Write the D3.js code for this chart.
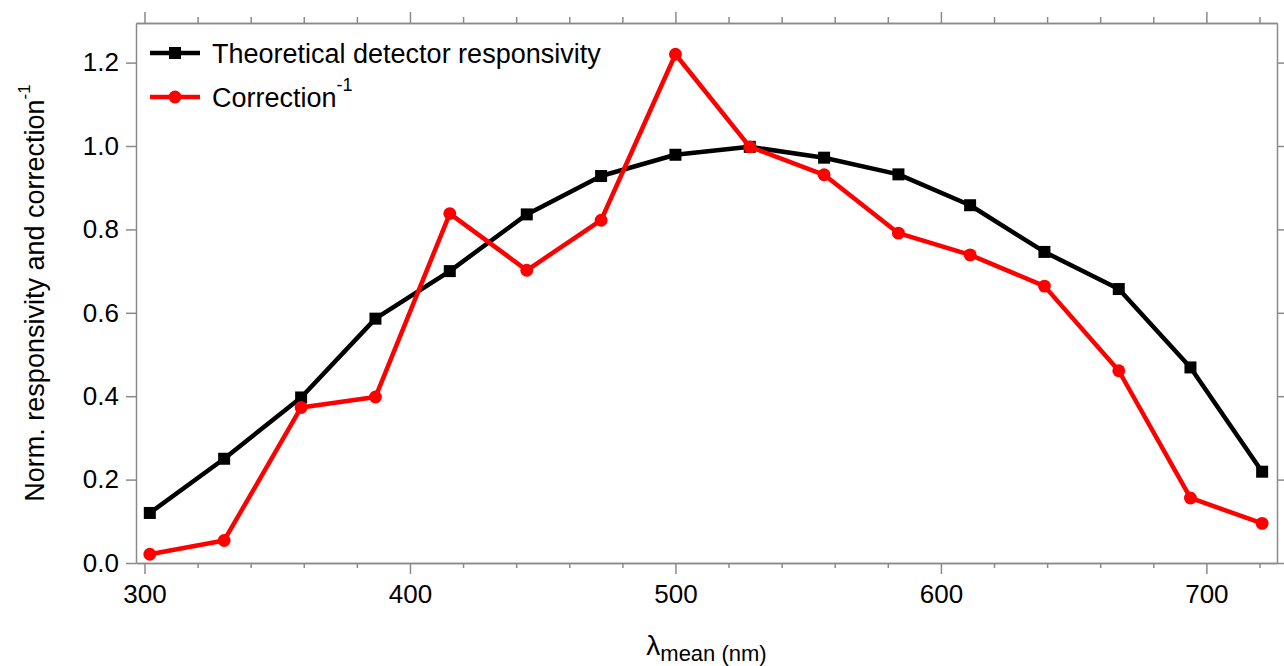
<!DOCTYPE html>
<html lang="en">
<head>
    <meta charset="UTF-8">
    <title>Responsivity vs correction</title>
    <script src="https://cdn.jsdelivr.net/npm/d3@7"></script>
    <style>
        body { margin: 0; background: #fff; }
        svg text { font-family: "Liberation Sans", Arial, sans-serif; fill: #000; }
        .axis path, .axis line { stroke: #8a8a8a; stroke-width: 1.5; }
        .axis text { font-size: 26px; }
    </style>
</head>
<body>
<svg id="chart" width="1284" height="666"></svg>
<script>
    // data
    let wavelengths = [302, 330, 359, 387, 415, 444, 472, 500, 528, 556, 584, 611, 639, 667, 694, 721];
    let responsivity = [0.120, 0.250, 0.397, 0.586, 0.700, 0.836, 0.928, 0.979, 0.998, 0.972, 0.932, 0.858, 0.746, 0.657, 0.469, 0.219];
    let correction = [0.021, 0.054, 0.373, 0.398, 0.838, 0.702, 0.822, 1.220, 0.998, 0.931, 0.791, 0.739, 0.664, 0.461, 0.156, 0.095];
    let xMajor = [300, 400, 500, 600, 700];
    let xMinor = d3.range(320, 721, 20).filter(function(d){ return d % 100 !== 0; });
    let yMajor = [0.0, 0.2, 0.4, 0.6, 0.8, 1.0, 1.2];

    let svg = d3.select('svg#chart');
    let margins = {left: 136, right: 7, top: 23, bottom: 103};
    let width = 1284, height = 666;

    let xScale = d3.scaleLinear().domain([296.8, 726.6]).range([margins.left, width - margins.right]);
    let yScale = d3.scaleLinear().domain([0, 1.295]).range([height - margins.bottom, margins.top]);

    // axes: bottom / left with labels, top / right ticks only
    svg.append('g').attr('class', 'axis')
        .attr('transform', 'translate(0,' + yScale.range()[0] + ')')
        .call(d3.axisBottom(xScale).tickValues(xMinor).tickSize(5).tickFormat('').tickSizeOuter(0));
    svg.append('g').attr('class', 'axis')
        .attr('transform', 'translate(0,' + yScale.range()[0] + ')')
        .call(d3.axisBottom(xScale).tickValues(xMajor).tickSize(11).tickPadding(11).tickSizeOuter(0));

    svg.append('g').attr('class', 'axis')
        .attr('transform', 'translate(0,' + yScale.range()[1] + ')')
        .call(d3.axisTop(xScale).tickValues(xMinor).tickSize(6).tickFormat('').tickSizeOuter(0));
    svg.append('g').attr('class', 'axis')
        .attr('transform', 'translate(0,' + yScale.range()[1] + ')')
        .call(d3.axisTop(xScale).tickValues(xMajor).tickSize(11).tickFormat('').tickSizeOuter(0));

    svg.append('g').attr('class', 'axis')
        .attr('transform', 'translate(' + xScale.range()[0] + ',0)')
        .call(d3.axisLeft(yScale).tickValues(yMajor).tickFormat(d3.format('.1f'))
            .tickSize(10).tickPadding(7).tickSizeOuter(0));
    svg.append('g').attr('class', 'axis')
        .attr('transform', 'translate(' + xScale.range()[1] + ',0)')
        .call(d3.axisRight(yScale).tickValues(yMajor).tickSize(8).tickFormat('').tickSizeOuter(0));

    // lines
    let series = [
        {name: 'Theoretical detector responsivity', values: responsivity, colour: '#000000', marker: 'square'},
        {name: 'Correction', sup: '-1', values: correction, colour: '#ff0000', marker: 'circle'}
    ];
    let line = d3.line()
        .x(function(d){ return xScale(d[0]); })
        .y(function(d){ return yScale(d[1]); });

    function markerPath(s) {
        return d3.symbol().type(s.marker === 'square' ? d3.symbolSquare : d3.symbolCircle)
            .size(s.marker === 'square' ? 144 : 130)();
    }

    series.forEach(function(s){
        let pts = d3.zip(wavelengths, s.values);
        svg.append('path')
            .attr('d', line(pts))
            .attr('fill', 'none')
            .attr('stroke', s.colour)
            .attr('stroke-width', 4.5)
            .attr('stroke-linejoin', 'round');
        svg.append('g').selectAll('path')
            .data(pts)
            .enter()
            .append('path')
            .attr('d', markerPath(s))
            .attr('transform', function(d){ return 'translate(' + xScale(d[0]) + ',' + yScale(d[1]) + ')'; })
            .attr('fill', s.colour);
    });

    // legend
    let legend = svg.append('g');
    series.forEach(function(s, i){
        let y = 53 + i * 44;
        legend.append('line')
            .attr('x1', 150).attr('x2', 200).attr('y1', y).attr('y2', y)
            .attr('stroke', s.colour).attr('stroke-width', 4.5);
        legend.append('path')
            .attr('d', markerPath(s))
            .attr('transform', 'translate(175,' + y + ')')
            .attr('fill', s.colour);
        let t = legend.append('text')
            .attr('x', 212).attr('y', y + 10)
            .style('font-size', '27px')
            .text(s.name);
        if (s.sup) {
            t.append('tspan').attr('dy', -16).style('font-size', '18px').text(s.sup);
        }
    });

    // axis titles
    let yTitle = svg.append('text')
        .attr('transform', 'translate(44,' + ((margins.top + height - margins.bottom) / 2) + ') rotate(-90)')
        .attr('text-anchor', 'middle')
        .style('font-size', '27px')
        .text('Norm. responsivity and correction');
    yTitle.append('tspan').attr('dy', -14).style('font-size', '17px').text('-1');

    let xTitle = svg.append('text')
        .attr('x', (margins.left + width - margins.right) / 2)
        .attr('y', 655)
        .attr('text-anchor', 'middle')
        .style('font-size', '28px')
        .text('λ');
    xTitle.append('tspan').attr('dy', 6).style('font-size', '22px').text('mean (nm)');
</script>
</body>
</html>
